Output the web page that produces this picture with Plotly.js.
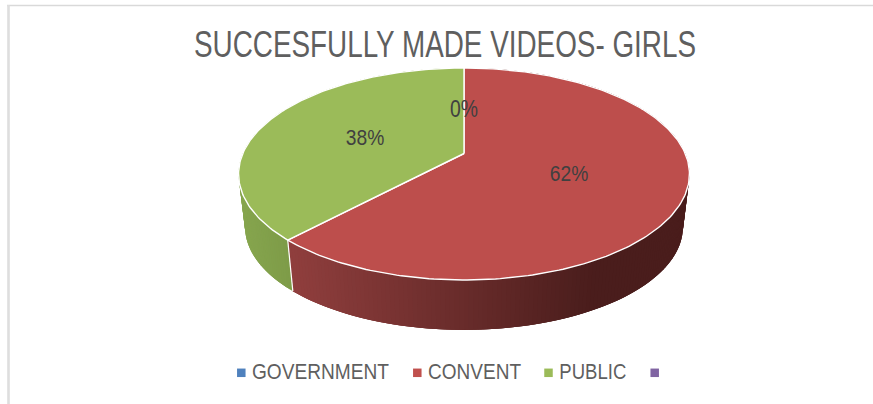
<!DOCTYPE html>
<html>
<head>
<meta charset="utf-8">
<script src="https://cdn.plot.ly/plotly-3.0.1.min.js"></script>
<style>html,body{margin:0;padding:0;background:#fff}#chart{width:873px;height:404px}</style>
</head>
<body>
<div id="chart"></div>
<script>
// Share of successfully made videos, by school type
const categories = ['GOVERNMENT', 'CONVENT', 'PUBLIC', ''];
const shares = [0, 62, 38, 0];
const percentLabels = ['0%', '62%', '38%'];
const swatchColors = ['#4f81bd', '#c0504d', '#9bbb59', '#8064a2'];
const faceColors = ['#4f81bd', '#bd4e4c', '#9bbb59'];
const titleText = 'SUCCESFULLY MADE VIDEOS- GIRLS';

const fontFamily = '"Liberation Sans", Arial, sans-serif';

// Perspective disc: unit circle (u, v) projected to page pixels
const cx = 464, apexY = 153.5, kx = 221.2, ka = -72.35, kc = 0.1934;
const vanishY = 2000, rimScale = 0.971;

function rimPoint(deg, drop) {
  const t = deg * Math.PI / 180, u = Math.sin(t), v = Math.cos(t), d = 1 + kc * v;
  const x = cx + kx * u / d, y = (ka * v + apexY) / d;
  if (!drop) return [x, y];
  return [cx + (x - cx) * rimScale, vanishY - (vanishY - y) * rimScale];
}

function mix(a, b, f) {
  f = Math.min(1, Math.max(0, f));
  return 'rgb(' + a.map((c, i) => Math.round(c + (b[i] - c) * f)).join(',') + ')';
}

const traces = [];
const total = shares.reduce((s, v) => s + v, 0);

// Wall of the disc, drawn in overlapping strips so the shading runs left to right
const wallRamps = {
  1: {from: [143, 62, 61], to: [74, 29, 28], x0: 290, x1: 590},
  2: {from: [134, 165, 78], to: [124, 154, 71], x0: 240, x1: 292}
};
let start = 0;
[0, 1, 2].forEach(i => {
  const end = start + shares[i] / total * 360;
  const ramp = wallRamps[i];
  if (ramp) {
    for (let a = start; a < end; a += 1) {
      const b = Math.min(a + 3, end);
      const p = [rimPoint(a, 0), rimPoint(b, 0), rimPoint(b, 1), rimPoint(a, 1)];
      const midX = (p[0][0] + p[1][0]) / 2;
      const col = mix(ramp.from, ramp.to, (midX - ramp.x0) / (ramp.x1 - ramp.x0));
      traces.push({
        type: 'scatter', mode: 'lines', x: p.map(q => q[0]).concat(p[0][0]), y: p.map(q => q[1]).concat(p[0][1]),
        fill: 'toself', fillcolor: col, line: {width: 0}, hoverinfo: 'skip', showlegend: false
      });
    }
  }
  start = end;
});

// Seam between the two walls at the front of the disc
const seamAngle = (shares[0] + shares[1]) / total * 360;
const seamTop = rimPoint(seamAngle, 0), seamBottom = rimPoint(seamAngle, 1);
traces.push({
  type: 'scatter', mode: 'lines', x: [seamTop[0], seamBottom[0]], y: [seamTop[1], seamBottom[1]],
  line: {color: '#ffffff', width: 1.2}, hoverinfo: 'skip', showlegend: false
});

// Top faces, one wedge per category
start = 0;
[0, 1, 2].forEach(i => {
  const end = start + shares[i] / total * 360;
  const xs = [cx], ys = [apexY];
  const steps = Math.max(1, Math.ceil(end - start));
  for (let s = 0; s <= steps; s++) {
    const p = rimPoint(start + (end - start) * s / steps, 0);
    xs.push(p[0]); ys.push(p[1]);
  }
  xs.push(cx); ys.push(apexY);
  traces.push({
    type: 'scatter', mode: 'lines', x: xs, y: ys, fill: 'toself', fillcolor: faceColors[i],
    line: {color: '#ffffff', width: 1.4}, name: categories[i], hoverinfo: 'name', showlegend: false
  });
  start = end;
});

// Percentage labels on the wedges
const labelWidths = [28, 38.5, 38.5];
traces.push({
  type: 'scatter', mode: 'text', x: [464, 569, 365], y: [111, 175, 139], text: percentLabels,
  textposition: 'middle center', textfont: {family: fontFamily, size: [24.5, 22, 22], color: '#404040'},
  hoverinfo: 'skip', showlegend: false
});

// Key below the disc
const swatchX = [241.3, 417.3, 548.5, 654.7], keyY = 372.8;
categories.forEach((name, i) => {
  traces.push({
    type: 'scatter', mode: 'markers', x: [swatchX[i]], y: [keyY],
    marker: {symbol: 'square', size: 8.5, color: swatchColors[i]}, name: name, hoverinfo: 'skip', showlegend: false
  });
});
const keyNames = categories.filter(n => n);
const keyCenters = [320.5, 474.5, 592.8], keyWidths = [137, 93, 67];
traces.push({
  type: 'scatter', mode: 'text', x: keyCenters, y: keyNames.map(() => 373), text: keyNames,
  textposition: 'middle center', textfont: {family: fontFamily, size: 22, color: '#5f5f5f'},
  hoverinfo: 'skip', showlegend: false
});

// Thin frame along the top and left of the chart area
const shapes = [
  {type: 'line', xref: 'x', yref: 'y', x0: 7, x1: 873, y0: 5.6, y1: 5.6, line: {color: '#d9d9d9', width: 1.5}},
  {type: 'line', xref: 'x', yref: 'y', x0: 8.5, x1: 8.5, y0: 5, y1: 404, line: {color: '#dedede', width: 2.6}}
];

const layout = {
  width: 873, height: 404,
  margin: {l: 0, r: 0, t: 0, b: 0},
  paper_bgcolor: '#ffffff', plot_bgcolor: '#ffffff',
  title: {
    text: titleText,
    x: 445 / 873, xanchor: 'center', y: 1 - 44.5 / 404, yanchor: 'middle',
    font: {family: fontFamily, size: 36, color: '#5f5f5f'}
  },
  xaxis: {range: [0, 873], visible: false, fixedrange: true},
  yaxis: {range: [404, 0], visible: false, fixedrange: true},
  shapes: shapes, showlegend: false
};

// The chart's typeface is a condensed one: narrow the strings to their set widths
function condense(node, width) {
  node.setAttribute('textLength', width);
  node.setAttribute('lengthAdjust', 'spacingAndGlyphs');
}

Plotly.newPlot('chart', traces, layout, {displayModeBar: false, staticPlot: true}).then(gd => {
  gd.querySelectorAll('text').forEach(node => {
    const label = node.textContent;
    if (keyNames.includes(label)) condense(node, keyWidths[keyNames.indexOf(label)]);
    if (percentLabels.includes(label)) condense(node, labelWidths[percentLabels.indexOf(label)]);
    if (label === titleText) condense(node, 502);
  });
});
</script>
</body>
</html>
